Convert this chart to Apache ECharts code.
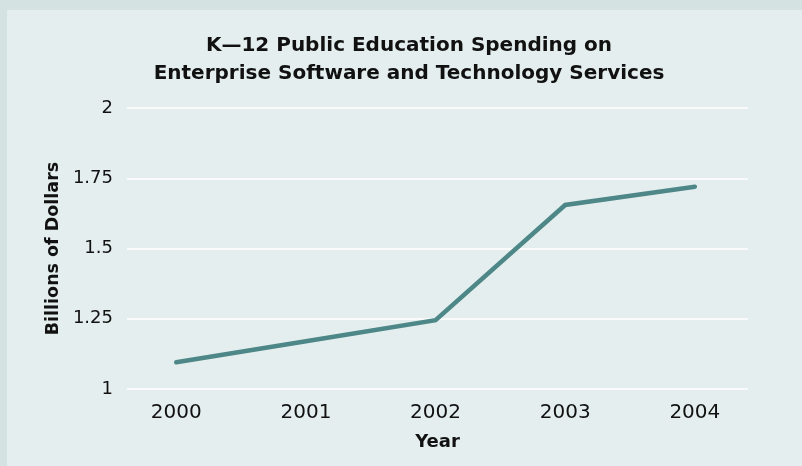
<!DOCTYPE html>
<html><head><meta charset="utf-8">
<script src="https://cdn.jsdelivr.net/npm/echarts@6/dist/echarts.min.js"></script>
<style>html,body{margin:0;padding:0;background:#d4e2e2;}#c{width:802px;height:466px;}</style>
</head><body><div id="c"></div>
<script>
const years = [2000, 2001, 2002, 2003, 2004];
const spending = [1.095, 1.17, 1.245, 1.655, 1.72];
const yTicks = [1, 1.25, 1.5, 1.75, 2];

const chart = echarts.init(document.getElementById('c'));
chart.setOption({
  backgroundColor: '#d4e2e2',
  animation: false,
  graphic: [{type: 'rect', z: -10, shape: {x: 7, y: 10, width: 795, height: 456}, style: {fill: '#e5eeee'}}],
  title: {
    text: 'K\u201412 Public Education Spending on\nEnterprise Software and Technology Services',
    left: 404, textAlign: 'center', top: 27,
    textStyle: {fontFamily: 'DejaVu Sans', fontWeight: 'bold', fontSize: 20, lineHeight: 28, color: '#111'}
  },
  grid: {left: 127, right: 54, top: 108, bottom: 77},
  xAxis: {
    type: 'value', min: 1999.62, max: 2004.41,
    name: 'Year', nameLocation: 'middle', nameGap: 44,
    nameTextStyle: {fontFamily: 'DejaVu Sans', fontWeight: 'bold', fontSize: 18, color: '#111'},
    axisLine: {show: false}, axisTick: {show: false}, splitLine: {show: false},
    axisLabel: {customValues: years, formatter: v => String(v), margin: 14,
      fontFamily: 'DejaVu Sans', fontSize: 20, color: '#111'}
  },
  yAxis: {
    type: 'value', min: 1, max: 2, interval: 0.25,
    name: 'Billions of Dollars', nameLocation: 'middle', nameGap: 56,
    nameTextStyle: {fontFamily: 'DejaVu Sans', fontWeight: 'bold', fontSize: 17.5, color: '#111'},
    axisLine: {show: false}, axisTick: {show: false},
    splitLine: {lineStyle: {color: '#ffffff', width: 1.5}},
    axisLabel: {customValues: yTicks, formatter: v => String(v), margin: 14,
      fontFamily: 'DejaVu Sans', fontSize: 18, color: '#111'}
  },
  series: [{
    type: 'line', data: years.map((y, i) => [y, spending[i]]),
    symbol: 'none', lineStyle: {color: '#4e8787', width: 4.5, cap: 'round', join: 'miter'}
  }]
});
</script></body></html>
